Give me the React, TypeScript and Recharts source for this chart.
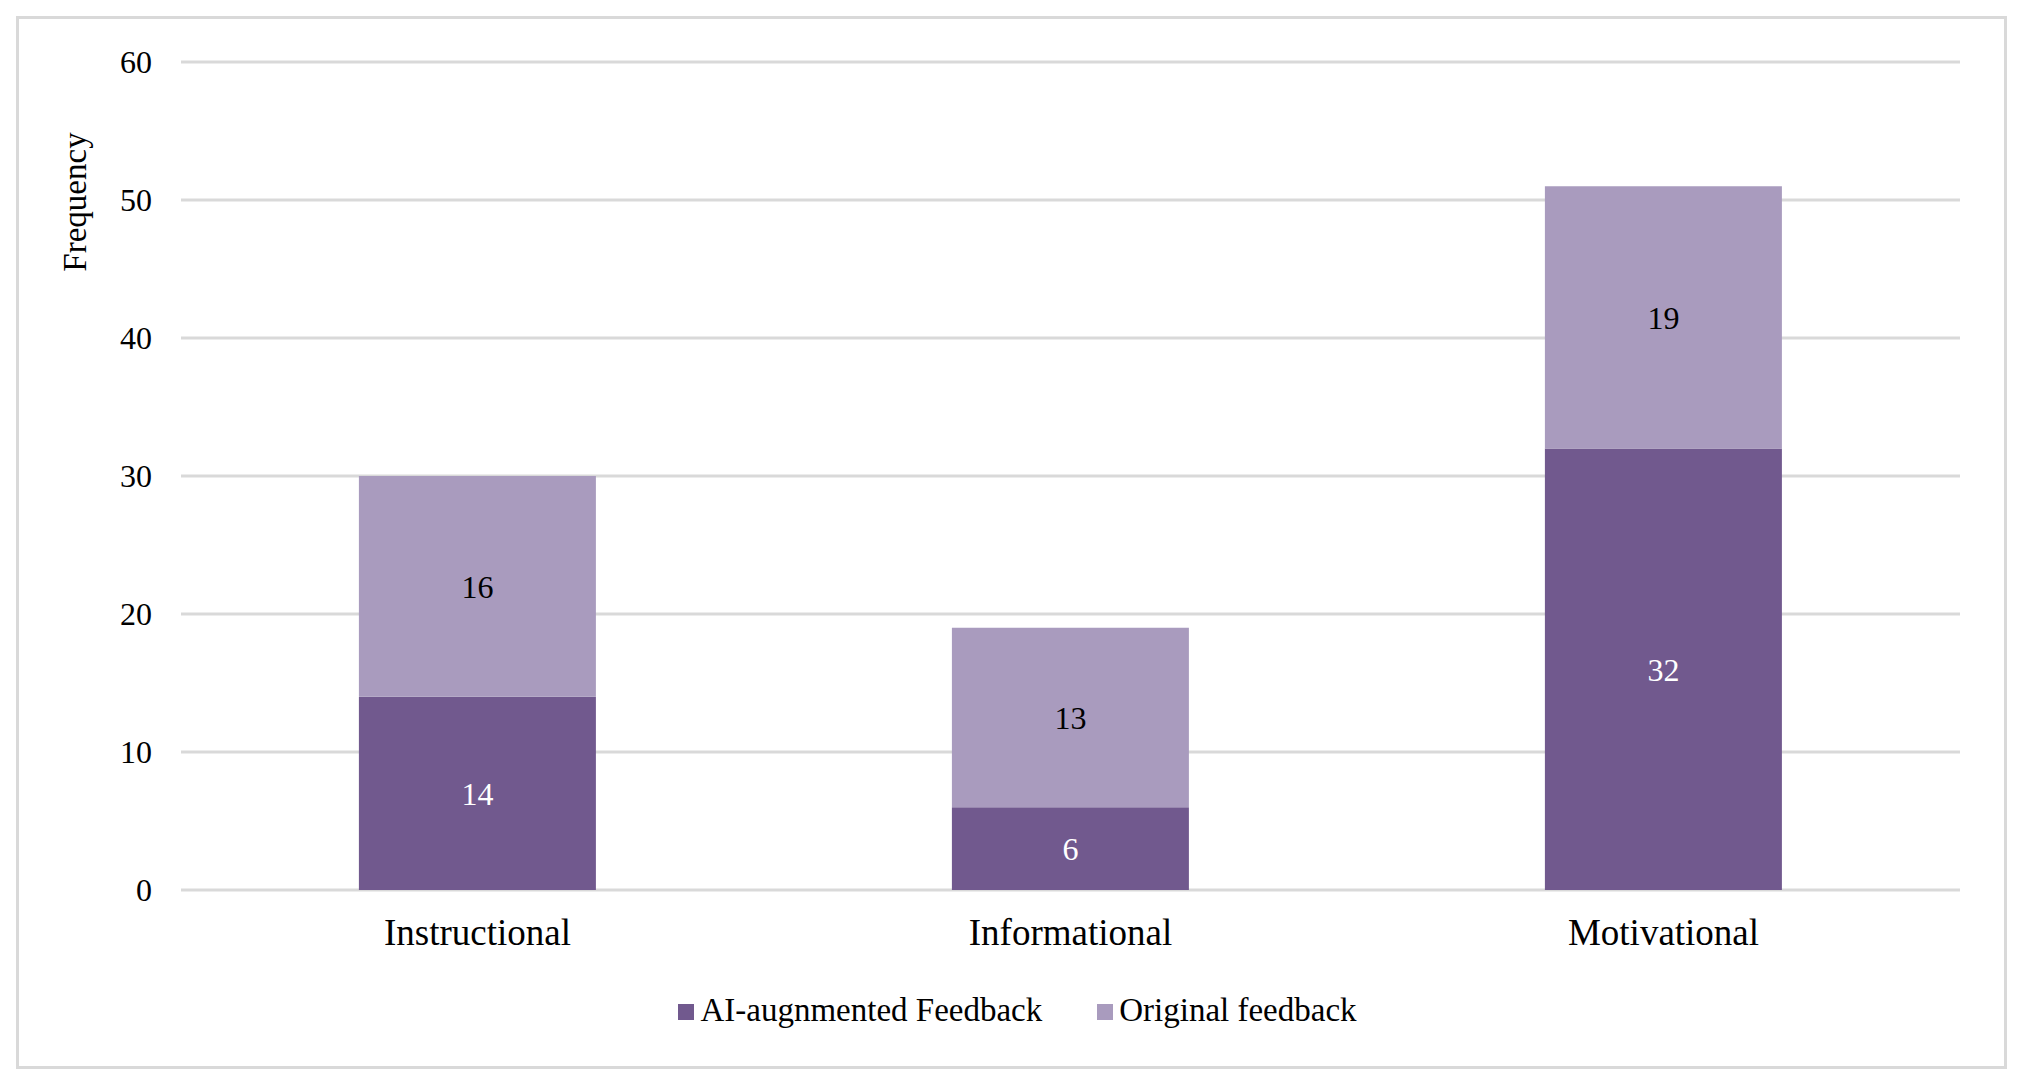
import { BarChart, Bar, XAxis, YAxis, CartesianGrid, Legend, LabelList } from 'recharts';

const categories = ['Instructional', 'Informational', 'Motivational'];
const aiAugmented = [14, 6, 32];
const original = [16, 13, 19];
const yTicks = [0, 10, 20, 30, 40, 50, 60];

const AI_NAME = 'AI-augnmented Feedback';
const ORIGINAL_NAME = 'Original feedback';

const DARK = '#71598E';
const LIGHT = '#A99BBE';
const GRID = '#d9d9d9';
const FONT = "'Liberation Serif', 'Times New Roman', serif";

const data = categories.map((category, i) => ({
  category,
  ai: aiAugmented[i],
  orig: original[i],
}));

function FrequencyLabel(props: any) {
  const { viewBox } = props;
  const x = viewBox.x + 35;
  const y = viewBox.y + 140;
  return (
    <text
      x={x}
      y={y}
      transform={`rotate(-90 ${x} ${y})`}
      textAnchor="middle"
      fill="#000"
      fontSize={33}
      fontFamily={FONT}
    >
      Frequency
    </text>
  );
}

function renderLegend(props: any) {
  const { payload = [] } = props;
  return (
    <div
      style={{
        display: 'flex',
        justifyContent: 'center',
        fontFamily: FONT,
        fontSize: 33,
        lineHeight: '38px',
        color: '#000',
      }}
    >
      {payload.map((entry: any, i: number) => (
        <div
          key={entry.value}
          style={{ display: 'flex', alignItems: 'center', marginLeft: i ? 55 : 0 }}
        >
          <span
            style={{
              display: 'inline-block',
              width: 16,
              height: 16,
              marginTop: 4,
              marginRight: 6,
              background: entry.color,
            }}
          />
          <span>{entry.value}</span>
        </div>
      ))}
    </div>
  );
}

export default function App() {
  return (
    <div style={{ padding: '8px 0 0 8px' }}>
      <div style={{ width: 1985, height: 1047, border: `3px solid ${GRID}`, background: '#fff' }}>
        <BarChart
          width={1985}
          height={1047}
          data={data}
          margin={{ top: 43, right: 44, left: 32, bottom: 116 }}
          barCategoryGap="30%"
        >
          <CartesianGrid vertical={false} stroke={GRID} strokeWidth={3} />
          <XAxis
            dataKey="category"
            axisLine={false}
            tickLine={false}
            tickSize={0}
            tickMargin={29}
            height={60}
            interval={0}
            tick={{ fill: '#000', fontSize: 37, fontFamily: FONT }}
          />
          <YAxis
            width={130}
            domain={[0, 60]}
            ticks={yTicks}
            interval={0}
            axisLine={false}
            tickLine={false}
            tickSize={0}
            tickMargin={29}
            tick={{ fill: '#000', fontSize: 32, fontFamily: FONT }}
            label={FrequencyLabel}
          />
          <Legend
            layout="horizontal"
            verticalAlign="middle"
            align="center"
            content={renderLegend}
            wrapperStyle={{ top: 972, left: 6, width: 1985 }}
          />
          <Bar dataKey="ai" name={AI_NAME} stackId="s" fill={DARK} isAnimationActive={false}>
            <LabelList
              dataKey="ai"
              position="center"
              fill="#fff"
              stroke="none"
              fontSize={32}
              fontFamily={FONT}
            />
          </Bar>
          <Bar dataKey="orig" name={ORIGINAL_NAME} stackId="s" fill={LIGHT} isAnimationActive={false}>
            <LabelList
              dataKey="orig"
              position="center"
              fill="#000"
              stroke="none"
              fontSize={32}
              fontFamily={FONT}
            />
          </Bar>
        </BarChart>
      </div>
    </div>
  );
}
